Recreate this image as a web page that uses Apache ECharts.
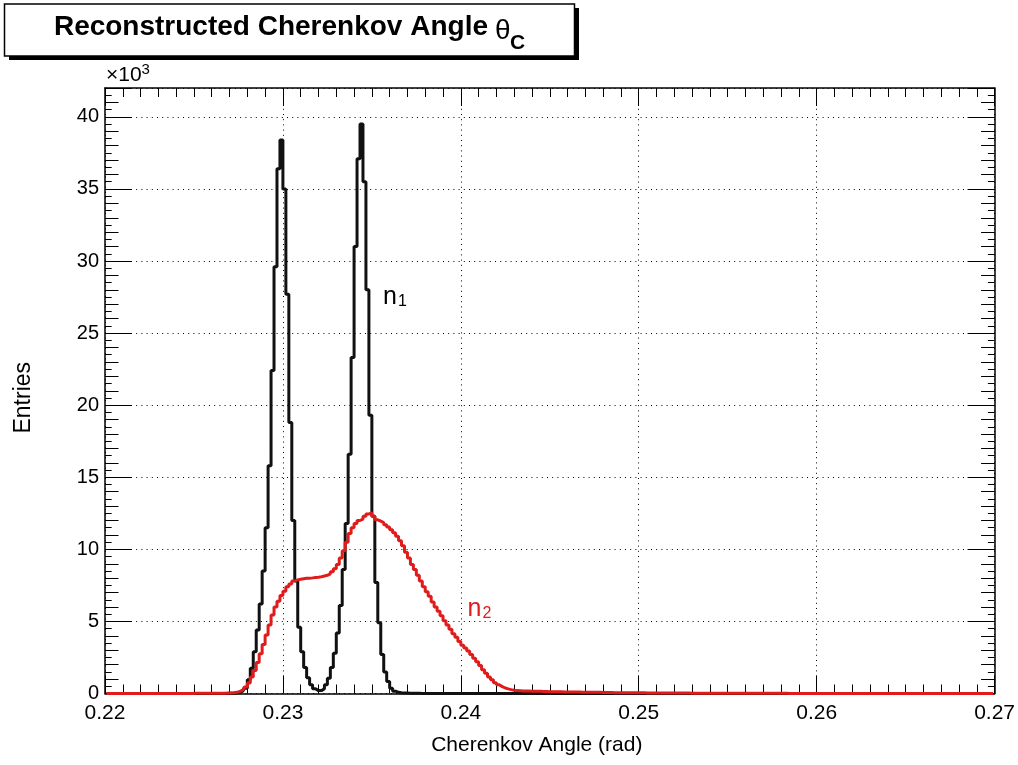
<!DOCTYPE html>
<html>
<head>
<meta charset="utf-8">
<title>Reconstructed Cherenkov Angle</title>
<script src="https://cdn.jsdelivr.net/npm/echarts@6/dist/echarts.min.js"></script>
<style>
  html, body { margin: 0; padding: 0; background: #fff; }
  #chart { width: 1018px; height: 765px; }
</style>
</head>
<body>
<div id="chart"></div>
<script>
// histogram range in rad, 300 bins
const xMin = 0.22;
const xMax = 0.27;
const xTicks = [0.22, 0.23, 0.24, 0.25, 0.26, 0.27];
const yTicks = [0, 5, 10, 15, 20, 25, 30, 35, 40];

// bin contents, units of 10^3 entries, 20 bins per row
const n1Counts = [
  0, 0, 0, 0, 0, 0, 0, 0, 0, 0, 0, 0, 0, 0, 0, 0, 0, 0, 0, 0,
  0, 0, 0, 0, 0, 0, 0, 0, 0, 0, 0, 0, 0, 0, 0, 0, 0, 0, 0, 0,
  0, 0, 0.01, 0.02, 0.04, 0.08, 0.16, 0.37, 0.95, 1.76, 2.9, 4.4, 6.2, 8.5, 11.5, 15.8, 22.4, 29.6, 36.4, 38.4,
  35.0, 27.7, 18.8, 12.0, 7.8, 4.6, 2.9, 1.8, 1.1, 0.6, 0.33, 0.2, 0.2, 0.33, 0.6, 1.05, 1.8, 2.8, 4.2, 6.1,
  8.6, 11.8, 16.6, 23.3, 31.0, 37.1, 39.5, 35.5, 28.0, 19.3, 12.3, 7.7, 4.9, 2.7, 1.5, 0.83, 0.37, 0.16, 0.08, 0.05,
  0.04, 0.03, 0.02, 0.02, 0.01, 0.01, 0, 0, 0, 0, 0, 0, 0, 0, 0, 0, 0, 0, 0, 0,
  0, 0, 0, 0, 0, 0, 0, 0, 0, 0, 0, 0, 0, 0, 0, 0, 0, 0, 0, 0,
  0, 0, 0, 0, 0, 0, 0, 0, 0, 0, 0, 0, 0, 0, 0, 0, 0, 0, 0, 0,
  0, 0, 0, 0, 0, 0, 0, 0, 0, 0, 0, 0, 0, 0, 0, 0, 0, 0, 0, 0,
  0, 0, 0, 0, 0, 0, 0, 0, 0, 0, 0, 0, 0, 0, 0, 0, 0, 0, 0, 0,
  0, 0, 0, 0, 0, 0, 0, 0, 0, 0, 0, 0, 0, 0, 0, 0, 0, 0, 0, 0,
  0, 0, 0, 0, 0, 0, 0, 0, 0, 0, 0, 0, 0, 0, 0, 0, 0, 0, 0, 0,
  0, 0, 0, 0, 0, 0, 0, 0, 0, 0, 0, 0, 0, 0, 0, 0, 0, 0, 0, 0,
  0, 0, 0, 0, 0, 0, 0, 0, 0, 0, 0, 0, 0, 0, 0, 0, 0, 0, 0, 0,
  0, 0, 0, 0, 0, 0, 0, 0, 0, 0, 0, 0, 0, 0, 0, 0, 0, 0, 0, 0
];

const n2Counts = [
  0, 0, 0, 0, 0, 0, 0, 0, 0, 0, 0, 0, 0, 0, 0, 0, 0, 0, 0, 0,
  0, 0, 0, 0, 0, 0, 0, 0, 0, 0, 0.01, 0.01, 0.01, 0.01, 0.01, 0.01, 0.01, 0.01, 0.01, 0.02,
  0.02, 0.03, 0.04, 0.05, 0.08, 0.14, 0.25, 0.45, 0.72, 1.15, 1.6, 2.15, 2.75, 3.4, 4.05, 4.75, 5.45, 6.0, 6.4, 6.8,
  7.1, 7.4, 7.6, 7.8, 7.88, 7.92, 7.96, 8.0, 8.0, 8.02, 8.05, 8.07, 8.1, 8.15, 8.2, 8.3, 8.45, 8.65, 8.95, 9.4,
  9.9, 10.5, 11.1, 11.5, 11.8, 12.0, 12.1, 12.3, 12.45, 12.55, 12.3, 12.05, 11.95, 11.85, 11.7, 11.55, 11.35, 11.15, 10.9, 10.6,
  10.25, 9.8, 9.4, 8.95, 8.6, 8.2, 7.8, 7.4, 7.05, 6.75, 6.35, 6.0, 5.7, 5.4, 5.05, 4.75, 4.45, 4.15, 3.9, 3.6,
  3.35, 3.15, 2.95, 2.7, 2.45, 2.2, 1.95, 1.65, 1.4, 1.15, 0.95, 0.75, 0.6, 0.48, 0.38, 0.32, 0.27, 0.23, 0.2, 0.19,
  0.18, 0.17, 0.17, 0.16, 0.16, 0.15, 0.15, 0.14, 0.14, 0.13, 0.13, 0.12, 0.12, 0.12, 0.11, 0.11, 0.11, 0.1, 0.1, 0.1,
  0.09, 0.09, 0.09, 0.08, 0.08, 0.08, 0.08, 0.07, 0.07, 0.07, 0.07, 0.06, 0.06, 0.06, 0.06, 0.06, 0.05, 0.05, 0.05, 0.05,
  0.05, 0.05, 0.04, 0.04, 0.04, 0.04, 0.04, 0.04, 0.04, 0.03, 0.03, 0.03, 0.03, 0.03, 0.03, 0.03, 0.03, 0.02, 0.02, 0.02,
  0.02, 0.02, 0.02, 0.02, 0.02, 0.02, 0.02, 0.02, 0.02, 0.02, 0.01, 0.01, 0.01, 0.01, 0.01, 0.01, 0.01, 0.01, 0.01, 0.01,
  0.01, 0.01, 0.01, 0.01, 0.01, 0.01, 0.01, 0.01, 0.01, 0.01, 0, 0, 0, 0, 0, 0, 0, 0, 0, 0,
  0, 0, 0, 0, 0, 0, 0, 0, 0, 0, 0, 0, 0, 0, 0, 0, 0, 0, 0, 0,
  0, 0, 0, 0, 0, 0, 0, 0, 0, 0, 0, 0, 0, 0, 0, 0, 0, 0, 0, 0,
  0, 0, 0, 0, 0, 0, 0, 0, 0, 0, 0, 0, 0, 0, 0, 0, 0, 0, 0, 0
];

const FONT = 'Liberation Sans';
const RED = '#e01b1b';

// bin centres on the x scale
const binWidth = (xMax - xMin) / n1Counts.length;
const toPoints = counts => counts.map((v, i) => [xMin + (i + 0.5) * binWidth, v]);

const dotted = { color: '#000', width: 1, type: [1, 4.2] };

// ROOT-style ticks: one axis per tick level, drawn inside the frame
function tickAxis(position, interval, length, extra) {
  return Object.assign({
    type: 'value',
    position: position,
    min: 0,
    max: 42,
    interval: interval,
    axisLine: { show: false },
    axisLabel: { show: false },
    splitLine: { show: false },
    axisTick: { show: true, inside: true, length: length, lineStyle: { color: '#000', width: 1 } }
  }, extra || {});
}

const chart = echarts.init(document.getElementById('chart'));

chart.setOption({
  animation: false,
  backgroundColor: '#fff',
  grid: { left: 105, right: 20, top: 88, bottom: 71.5, containLabel: false },
  graphic: [
    // title box with drop shadow
    { type: 'rect', shape: { x: 9, y: 8, width: 570, height: 52 }, style: { fill: '#000' }, z: 10 },
    { type: 'rect', shape: { x: 4.5, y: 4, width: 570, height: 52 },
      style: { fill: '#fff', stroke: '#000', lineWidth: 1.5 }, z: 11 },
    { type: 'text', x: 488, y: 27, z: 12,
      style: { text: 'Reconstructed Cherenkov Angle', align: 'right', verticalAlign: 'middle',
               font: 'bold 28px "Liberation Sans"', fill: '#000' } },
    { type: 'text', x: 495, y: 31, z: 12,
      style: { text: 'θ', align: 'left', verticalAlign: 'middle',
               font: '28px "Liberation Sans"', fill: '#000' } },
    { type: 'text', x: 510, y: 43, z: 12,
      style: { text: 'C', align: 'left', verticalAlign: 'middle',
               font: 'bold 21px "Liberation Sans"', fill: '#000' } },
    // axis multiplier
    { type: 'text', left: 106, top: 62, z: 12,
      style: { text: '{m|×10}{e|3}', fill: '#000',
               rich: { m: { fontFamily: FONT, fontSize: 21, verticalAlign: 'bottom', lineHeight: 24 },
                       e: { fontFamily: FONT, fontSize: 15, verticalAlign: 'top', lineHeight: 24 } } } }
  ],
  xAxis: [
    {
      type: 'value', position: 'bottom', min: xMin, max: xMax, interval: 0.01,
      name: 'Cherenkov Angle (rad)', nameLocation: 'middle', nameGap: 41,
      nameTextStyle: { fontFamily: FONT, fontSize: 21, color: '#000', padding: [0, 26, 0, 0] },
      axisLine: { show: true, onZero: false, lineStyle: { color: '#000', width: 1.5 } },
      axisTick: { show: true, inside: true, length: 18, lineStyle: { color: '#000', width: 1 } },
      minorTick: { show: true, splitNumber: 10, length: 9, lineStyle: { color: '#000', width: 1 } },
      axisLabel: { fontFamily: FONT, fontSize: 21, color: '#000', margin: 9,
                   formatter: v => xTicks.some(t => Math.abs(t - v) < 1e-9) ? v.toFixed(2) : '' },
      splitLine: { show: true, lineStyle: dotted }
    },
    {
      type: 'value', position: 'top', min: xMin, max: xMax, interval: 0.01,
      axisLine: { show: true, onZero: false, lineStyle: { color: '#000', width: 1.5 } },
      axisTick: { show: true, inside: true, length: 18, lineStyle: { color: '#000', width: 1 } },
      minorTick: { show: true, splitNumber: 10, length: 9, lineStyle: { color: '#000', width: 1 } },
      axisLabel: { show: false },
      splitLine: { show: false }
    }
  ],
  yAxis: [
    tickAxis('left', 5, 27, {
      name: 'Entries', nameLocation: 'middle', nameGap: 70,
      nameTextStyle: { fontFamily: FONT, fontSize: 23, color: '#000', padding: [0, 14, 0, 0] },
      axisLine: { show: true, onZero: false, lineStyle: { color: '#000', width: 1.5 } },
      axisLabel: { show: true, fontFamily: FONT, fontSize: 20, color: '#000', margin: 6,
                   formatter: v => yTicks.includes(v) ? String(v) : '' },
      splitLine: { show: true, lineStyle: dotted }
    }),
    tickAxis('left', 1, 13.5),
    tickAxis('left', 0.5, 6.7),
    tickAxis('right', 5, 27, {
      axisLine: { show: true, onZero: false, lineStyle: { color: '#000', width: 1.5 } }
    }),
    tickAxis('right', 1, 13.5),
    tickAxis('right', 0.5, 6.7)
  ],
  series: [
    {
      name: 'n1', type: 'line', step: 'middle', xAxisIndex: 0, yAxisIndex: 0,
      data: toPoints(n1Counts), showSymbol: false, symbol: 'none',
      lineStyle: { color: '#111', width: 3 }, z: 3,
      markPoint: {
        symbol: 'circle', symbolSize: 0, silent: true,
        label: { show: true, formatter: '{n|n}{s|1}',
                 rich: { n: { fontFamily: FONT, fontSize: 25, color: '#000', verticalAlign: 'bottom', lineHeight: 26 },
                         s: { fontFamily: FONT, fontSize: 16, color: '#000', verticalAlign: 'bottom', lineHeight: 20, padding: [0, 0, 0, 1] } } },
        data: [{ coord: [0.2363, 27.5] }]
      }
    },
    {
      name: 'n2', type: 'line', step: 'middle', xAxisIndex: 0, yAxisIndex: 0,
      data: toPoints(n2Counts), showSymbol: false, symbol: 'none',
      lineStyle: { color: RED, width: 3 }, z: 4,
      markPoint: {
        symbol: 'circle', symbolSize: 0, silent: true,
        label: { show: true, formatter: '{n|n}{s|2}',
                 rich: { n: { fontFamily: FONT, fontSize: 25, color: RED, verticalAlign: 'bottom', lineHeight: 26 },
                         s: { fontFamily: FONT, fontSize: 16, color: RED, verticalAlign: 'bottom', lineHeight: 20, padding: [0, 0, 0, 1] } } },
        data: [{ coord: [0.24105, 5.9] }]
      }
    }
  ]
});
</script>
</body>
</html>
